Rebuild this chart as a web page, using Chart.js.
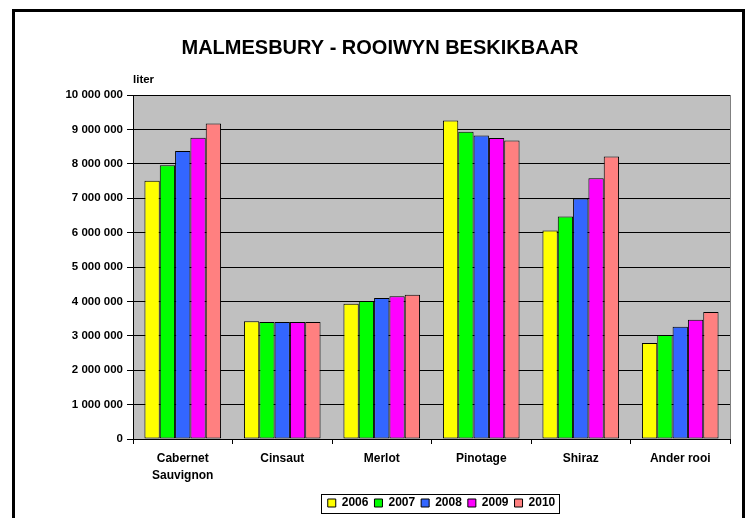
<!DOCTYPE html>
<html>
<head>
<meta charset="utf-8">
<script src="https://cdn.jsdelivr.net/npm/chart.js@4/dist/chart.umd.min.js"></script>
<style>
  html, body { margin: 0; padding: 0; background: #fff; }
  #wrap { width: 747px; height: 518px; }
</style>
</head>
<body>
<div id="wrap"><canvas id="chartRooiwyn" width="747" height="518"></canvas></div>
<script>
// Data
const kategorie = [["Cabernet", "Sauvignon"], "Cinsaut", "Merlot", "Pinotage", "Shiraz", "Ander rooi"];
const jare = ["2006", "2007", "2008", "2009", "2010"];
const kleure = ["#FFFF00", "#00FF00", "#3366FF", "#FF00FF", "#FF8080"];
const liter2006 = [7510000, 3420000, 3930000, 9260000, 6060000, 2790000];
const liter2007 = [7960000, 3400000, 4010000, 8930000, 6470000, 3020000];
const liter2008 = [8370000, 3400000, 4100000, 8820000, 6990000, 3260000];
const liter2009 = [8760000, 3400000, 4150000, 8750000, 7580000, 3470000];
const liter2010 = [9170000, 3400000, 4190000, 8680000, 8210000, 3690000];
const yMin = 0, yMax = 10000000, yStap = 1000000;

const reekse = [liter2006, liter2007, liter2008, liter2009, liter2010];
const font = "'Liberation Sans', Arial, sans-serif";
// legend en titel staan effens regs van die middel
const legendDx = 10, legendDy = 1, titelDx = 10;

// agtergrond, raam, "liter" en legend-raam
const versier = {
  id: "versier",
  afterLayout(chart) {
    const lg = chart.legend;
    lg.left += legendDx;
    lg.right += legendDx;
    lg.top += legendDy;
    lg.bottom += legendDy;
    (lg.legendHitBoxes || []).forEach(h => { h.left += legendDx; h.top += legendDy; });
    const tb = chart.titleBlock;
    tb.left += titelDx;
    tb.right += titelDx;
  },
  beforeDraw(chart) {
    const { ctx, chartArea: a } = chart;
    ctx.save();
    ctx.fillStyle = "#fff";
    ctx.fillRect(0, 0, chart.width, chart.height);
    ctx.fillStyle = "#C0C0C0";
    ctx.fillRect(a.left, a.top, a.right - a.left, a.bottom - a.top);
    ctx.strokeStyle = "#000";
    ctx.lineWidth = 3;
    ctx.strokeRect(13.5, 10.5, 730, 530);
    ctx.restore();
  },
  afterDraw(chart) {
    const { ctx, chartArea: a } = chart;
    ctx.save();
    ctx.strokeStyle = "#808080";
    ctx.lineWidth = 1;
    ctx.beginPath();
    ctx.moveTo(a.right + 0.5, a.top);
    ctx.lineTo(a.right + 0.5, a.bottom);
    ctx.stroke();
    ctx.fillStyle = "#000";
    ctx.font = "bold 11.5px " + font;
    ctx.textBaseline = "middle";
    ctx.fillText("liter", a.left, 80);
    const hb = chart.legend.legendHitBoxes;
    if (hb && hb.length) {
      const l = Math.min(...hb.map(h => h.left)) - 7;
      const r = Math.max(...hb.map(h => h.left + h.width)) + 4;
      const t = hb[0].top - 4;
      const b = hb[0].top + hb[0].height + 3;
      ctx.strokeStyle = "#000";
      ctx.lineWidth = 1;
      ctx.strokeRect(Math.round(l) + 0.5, Math.round(t) + 0.5, Math.round(r - l), Math.round(b - t));
    }
    ctx.restore();
  }
};

new Chart(document.getElementById("chartRooiwyn"), {
  type: "bar",
  data: {
    labels: kategorie,
    datasets: jare.map((j, i) => ({
      label: j,
      data: reekse[i],
      backgroundColor: kleure[i],
      borderColor: "#000",
      borderWidth: 1,
      borderSkipped: false,
      categoryPercentage: 0.77,
      barPercentage: 1
    }))
  },
  options: {
    responsive: false,
    animation: false,
    layout: { padding: { left: 10, right: 17, top: 0, bottom: 0 } },
    plugins: {
      title: {
        display: true,
        text: "MALMESBURY - ROOIWYN BESKIKBAAR",
        color: "#000",
        font: { family: font, size: 20, weight: "bold" },
        padding: { top: 36, bottom: 35 }
      },
      legend: {
        position: "bottom",
        fullSize: false,
        labels: {
          color: "#000",
          boxWidth: 8,
          boxHeight: 8,
          padding: 6,
          font: { family: font, size: 12, weight: "bold" }
        }
      },
      tooltip: { enabled: false }
    },
    scales: {
      x: {
        grid: { display: true, drawOnChartArea: false, color: "#000", tickLength: 5, offset: true },
        border: { color: "#000", width: 1 },
        ticks: { color: "#000", padding: 6, maxRotation: 0, font: { family: font, size: 12, weight: "bold", lineHeight: 1.4 } },
        afterFit(s) { s.height = 51; }
      },
      y: {
        min: yMin,
        max: yMax,
        grid: { color: "#000", lineWidth: 1, tickLength: 6 },
        border: { color: "#000", width: 1 },
        ticks: {
          stepSize: yStap,
          color: "#000",
          padding: 4,
          font: { family: font, size: 11.5, weight: "bold" },
          callback: v => String(v).replace(/\B(?=(\d{3})+(?!\d))/g, " ")
        },
        afterFit(s) { s.width = 123; }
      }
    }
  },
  plugins: [versier]
});
</script>
</body>
</html>
